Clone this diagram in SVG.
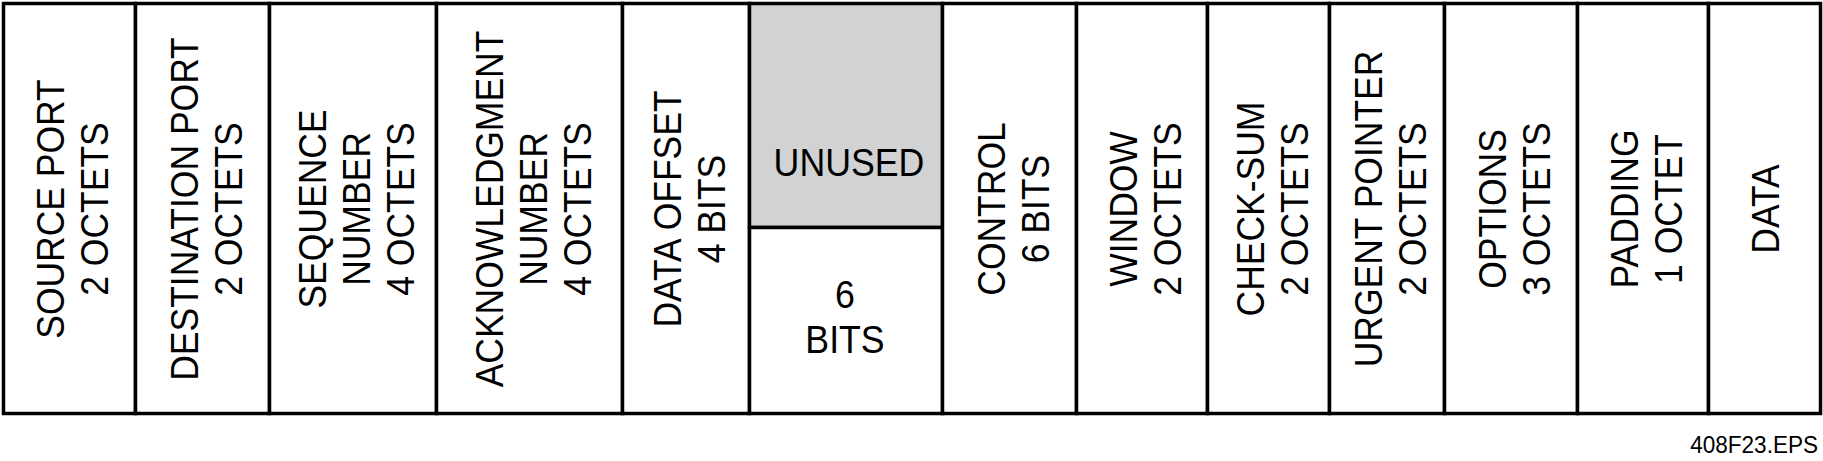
<svg xmlns="http://www.w3.org/2000/svg" width="1823" height="461" viewBox="0 0 1823 461">
<style>
.cell{fill:#ffffff;stroke:#000000;stroke-width:3.5}
.gray{fill:#d1d2d4;stroke:#000000;stroke-width:3.5}
.lbl{font-family:"Liberation Sans",Arial,sans-serif;font-size:39px;fill:#000000;text-anchor:middle}
.hl{font-family:"Liberation Sans",Arial,sans-serif;font-size:38px;fill:#000000;text-anchor:middle}
.foot{font-family:"Liberation Sans",Arial,sans-serif;font-size:23px;fill:#000000;text-anchor:end}
</style>
<rect x="0" y="0" width="1823" height="461" fill="#ffffff"/>
<g id="source-port">
<rect class="cell" x="3.5" y="3.5" width="132" height="410"/>
<text class="lbl" transform="translate(72,209) rotate(-90) scale(0.91,1)"><tspan x="0" y="-8">SOURCE PORT</tspan><tspan x="0" y="36">2 OCTETS</tspan></text>
</g>
<g id="destination-port">
<rect class="cell" x="135.5" y="3.5" width="134" height="410"/>
<text class="lbl" transform="translate(206,209) rotate(-90) scale(0.91,1)"><tspan x="0" y="-8">DESTINATION PORT</tspan><tspan x="0" y="36">2 OCTETS</tspan></text>
</g>
<g id="sequence-number">
<rect class="cell" x="269.5" y="3.5" width="167" height="410"/>
<text class="lbl" transform="translate(356,209) rotate(-90) scale(0.91,1)"><tspan x="0" y="-30">SEQUENCE</tspan><tspan x="0" y="14">NUMBER</tspan><tspan x="0" y="58">4 OCTETS</tspan></text>
</g>
<g id="acknowledgment-number">
<rect class="cell" x="436.5" y="3.5" width="186" height="410"/>
<text class="lbl" transform="translate(533,209) rotate(-90) scale(0.91,1)"><tspan x="0" y="-30">ACKNOWLEDGMENT</tspan><tspan x="0" y="14">NUMBER</tspan><tspan x="0" y="58">4 OCTETS</tspan></text>
</g>
<g id="data-offset">
<rect class="cell" x="622.5" y="3.5" width="127" height="410"/>
<text class="lbl" transform="translate(689,209) rotate(-90) scale(0.91,1)"><tspan x="0" y="-8">DATA OFFSET</tspan><tspan x="0" y="36">4 BITS</tspan></text>
</g>
<g id="unused">
<rect class="gray" x="749.5" y="3.5" width="193" height="224"/>
<rect class="cell" x="749.5" y="227.5" width="193" height="186"/>
<text class="hl" transform="translate(849,176) scale(0.94,1)">UNUSED</text>
<text class="hl" transform="translate(845,308) scale(0.94,1)">6</text>
<text class="hl" transform="translate(845,353) scale(0.94,1)">BITS</text>
</g>
<g id="control">
<rect class="cell" x="942.5" y="3.5" width="134" height="410"/>
<text class="lbl" transform="translate(1013,209) rotate(-90) scale(0.91,1)"><tspan x="0" y="-8">CONTROL</tspan><tspan x="0" y="36">6 BITS</tspan></text>
</g>
<g id="window">
<rect class="cell" x="1076.5" y="3.5" width="131" height="410"/>
<text class="lbl" transform="translate(1145,209) rotate(-90) scale(0.91,1)"><tspan x="0" y="-8">WINDOW</tspan><tspan x="0" y="36">2 OCTETS</tspan></text>
</g>
<g id="check-sum">
<rect class="cell" x="1207.5" y="3.5" width="122" height="410"/>
<text class="lbl" transform="translate(1272,209) rotate(-90) scale(0.91,1)"><tspan x="0" y="-8">CHECK-SUM</tspan><tspan x="0" y="36">2 OCTETS</tspan></text>
</g>
<g id="urgent-pointer">
<rect class="cell" x="1329.5" y="3.5" width="115" height="410"/>
<text class="lbl" transform="translate(1390,209) rotate(-90) scale(0.91,1)"><tspan x="0" y="-8">URGENT POINTER</tspan><tspan x="0" y="36">2 OCTETS</tspan></text>
</g>
<g id="options">
<rect class="cell" x="1444.5" y="3.5" width="133" height="410"/>
<text class="lbl" transform="translate(1514,209) rotate(-90) scale(0.91,1)"><tspan x="0" y="-8">OPTIONS</tspan><tspan x="0" y="36">3 OCTETS</tspan></text>
</g>
<g id="padding">
<rect class="cell" x="1577.5" y="3.5" width="131" height="410"/>
<text class="lbl" transform="translate(1646,209) rotate(-90) scale(0.91,1)"><tspan x="0" y="-8">PADDING</tspan><tspan x="0" y="36">1 OCTET</tspan></text>
</g>
<g id="data">
<rect class="cell" x="1708.5" y="3.5" width="112" height="410"/>
<text class="lbl" transform="translate(1765,209) rotate(-90) scale(0.91,1)"><tspan x="0" y="14">DATA</tspan></text>
</g>
<g id="footer">
<text class="foot" transform="translate(1818,453) scale(0.98,1)">408F23.EPS</text>
</g>
</svg>
